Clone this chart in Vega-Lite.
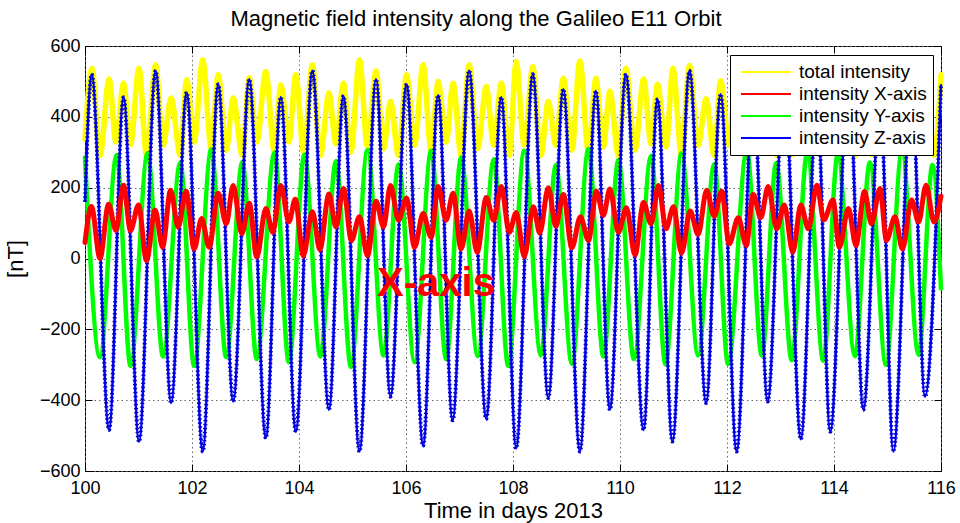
{
  "$schema": "https://vega.github.io/schema/vega-lite/v6.json",
  "width": 856,
  "height": 425,
  "autosize": {"type": "none"},
  "padding": {"left": 85, "top": 46, "right": 19, "bottom": 52},
  "background": "white",
  "title": {"text": "Magnetic field intensity along the Galileo E11 Orbit", "fontSize": 22, "font": "Liberation Sans", "fontWeight": "normal", "color": "black", "anchor": "middle", "dx": -37, "offset": 6},
  "config": {"view": {"stroke": "black", "strokeWidth": 1}, "font": "Liberation Sans", "axis": {"labelFont": "Liberation Sans", "titleFont": "Liberation Sans"}},
  "datasets": {
    "total": [{"t":100.0,"v":337},{"t":100.13,"v":537},{"t":100.28,"v":291},{"t":100.45,"v":507},{"t":100.58,"v":329},{"t":100.72,"v":495},{"t":100.85,"v":322},{"t":101.01,"v":537},{"t":101.15,"v":291},{"t":101.32,"v":547},{"t":101.46,"v":320},{"t":101.61,"v":453},{"t":101.78,"v":291},{"t":101.9,"v":505},{"t":102.04,"v":329},{"t":102.2,"v":561},{"t":102.36,"v":310},{"t":102.49,"v":519},{"t":102.64,"v":306},{"t":102.77,"v":453},{"t":102.94,"v":291},{"t":103.07,"v":510},{"t":103.21,"v":329},{"t":103.38,"v":528},{"t":103.54,"v":301},{"t":103.66,"v":490},{"t":103.81,"v":329},{"t":103.94,"v":519},{"t":104.09,"v":300},{"t":104.25,"v":547},{"t":104.4,"v":291},{"t":104.56,"v":467},{"t":104.69,"v":324},{"t":104.83,"v":495},{"t":104.97,"v":301},{"t":105.13,"v":561},{"t":105.28,"v":315},{"t":105.44,"v":530},{"t":105.58,"v":310},{"t":105.71,"v":443},{"t":105.86,"v":291},{"t":106.01,"v":519},{"t":106.16,"v":320},{"t":106.32,"v":547},{"t":106.47,"v":301},{"t":106.6,"v":500},{"t":106.75,"v":329},{"t":106.88,"v":495},{"t":107.03,"v":291},{"t":107.18,"v":547},{"t":107.34,"v":310},{"t":107.5,"v":486},{"t":107.64,"v":320},{"t":107.78,"v":495},{"t":107.93,"v":291},{"t":108.06,"v":556},{"t":108.21,"v":320},{"t":108.37,"v":542},{"t":108.52,"v":291},{"t":108.66,"v":443},{"t":108.8,"v":320},{"t":108.94,"v":509},{"t":109.1,"v":306},{"t":109.25,"v":558},{"t":109.41,"v":301},{"t":109.55,"v":509},{"t":109.69,"v":315},{"t":109.81,"v":472},{"t":109.97,"v":291},{"t":110.11,"v":537},{"t":110.28,"v":306},{"t":110.44,"v":507},{"t":110.58,"v":324},{"t":110.7,"v":492},{"t":110.86,"v":315},{"t":110.99,"v":537},{"t":111.15,"v":291},{"t":111.3,"v":545},{"t":111.46,"v":320},{"t":111.61,"v":451},{"t":111.76,"v":291},{"t":111.88,"v":502},{"t":112.04,"v":320},{"t":112.18,"v":561},{"t":112.36,"v":300},{"t":112.49,"v":510},{"t":112.63,"v":325},{"t":112.76,"v":453},{"t":112.93,"v":291},{"t":113.07,"v":530},{"t":113.23,"v":293},{"t":113.38,"v":530},{"t":113.52,"v":310},{"t":113.68,"v":490},{"t":113.81,"v":325},{"t":113.93,"v":519},{"t":114.1,"v":305},{"t":114.27,"v":540},{"t":114.41,"v":291},{"t":114.55,"v":467},{"t":114.7,"v":293},{"t":114.86,"v":497},{"t":114.98,"v":305},{"t":115.11,"v":561},{"t":115.28,"v":310},{"t":115.45,"v":522},{"t":115.58,"v":320},{"t":115.7,"v":443},{"t":115.87,"v":291},{"t":116.0,"v":519}],
    "X": [{"t":100.0,"v":45},{"t":100.12,"v":147},{"t":100.28,"v":0},{"t":100.44,"v":153},{"t":100.58,"v":79},{"t":100.72,"v":207},{"t":100.85,"v":79},{"t":101.0,"v":151},{"t":101.15,"v":-6},{"t":101.31,"v":137},{"t":101.45,"v":32},{"t":101.6,"v":193},{"t":101.74,"v":89},{"t":101.89,"v":190},{"t":102.04,"v":27},{"t":102.18,"v":113},{"t":102.32,"v":32},{"t":102.49,"v":184},{"t":102.64,"v":98},{"t":102.77,"v":206},{"t":102.93,"v":70},{"t":103.07,"v":156},{"t":103.21,"v":4},{"t":103.38,"v":141},{"t":103.51,"v":74},{"t":103.66,"v":206},{"t":103.81,"v":103},{"t":103.93,"v":167},{"t":104.08,"v":8},{"t":104.25,"v":132},{"t":104.39,"v":25},{"t":104.56,"v":182},{"t":104.69,"v":89},{"t":104.83,"v":198},{"t":104.98,"v":51},{"t":105.13,"v":118},{"t":105.28,"v":8},{"t":105.44,"v":162},{"t":105.58,"v":89},{"t":105.71,"v":206},{"t":105.86,"v":108},{"t":106.01,"v":170},{"t":106.16,"v":32},{"t":106.32,"v":127},{"t":106.47,"v":60},{"t":106.6,"v":203},{"t":106.75,"v":108},{"t":106.88,"v":184},{"t":107.03,"v":27},{"t":107.18,"v":134},{"t":107.33,"v":18},{"t":107.5,"v":172},{"t":107.64,"v":108},{"t":107.78,"v":203},{"t":107.93,"v":74},{"t":108.06,"v":130},{"t":108.21,"v":6},{"t":108.38,"v":146},{"t":108.5,"v":72},{"t":108.66,"v":200},{"t":108.8,"v":91},{"t":108.94,"v":181},{"t":109.1,"v":30},{"t":109.26,"v":118},{"t":109.41,"v":51},{"t":109.56,"v":190},{"t":109.69,"v":122},{"t":109.81,"v":196},{"t":109.97,"v":74},{"t":110.12,"v":143},{"t":110.28,"v":10},{"t":110.44,"v":158},{"t":110.58,"v":98},{"t":110.72,"v":206},{"t":110.86,"v":84},{"t":111.0,"v":146},{"t":111.15,"v":15},{"t":111.31,"v":134},{"t":111.46,"v":68},{"t":111.62,"v":193},{"t":111.76,"v":119},{"t":111.9,"v":190},{"t":112.04,"v":41},{"t":112.21,"v":115},{"t":112.36,"v":37},{"t":112.49,"v":181},{"t":112.63,"v":115},{"t":112.77,"v":203},{"t":112.93,"v":84},{"t":113.07,"v":151},{"t":113.23,"v":18},{"t":113.38,"v":151},{"t":113.52,"v":84},{"t":113.68,"v":207},{"t":113.81,"v":109},{"t":113.98,"v":165},{"t":114.1,"v":32},{"t":114.27,"v":141},{"t":114.41,"v":37},{"t":114.57,"v":189},{"t":114.7,"v":98},{"t":114.86,"v":198},{"t":114.98,"v":51},{"t":115.14,"v":118},{"t":115.28,"v":27},{"t":115.45,"v":165},{"t":115.58,"v":103},{"t":115.72,"v":207},{"t":115.87,"v":103},{"t":116.0,"v":176}],
    "Y": [{"t":100.0,"v":285},{"t":100.28,"v":-279},{"t":100.59,"v":292},{"t":100.85,"v":-303},{"t":101.17,"v":297},{"t":101.46,"v":-277},{"t":101.78,"v":271},{"t":102.04,"v":-303},{"t":102.36,"v":308},{"t":102.64,"v":-279},{"t":102.94,"v":273},{"t":103.21,"v":-284},{"t":103.54,"v":299},{"t":103.81,"v":-293},{"t":104.1,"v":292},{"t":104.4,"v":-277},{"t":104.69,"v":275},{"t":104.97,"v":-306},{"t":105.28,"v":306},{"t":105.58,"v":-274},{"t":105.86,"v":266},{"t":106.16,"v":-293},{"t":106.47,"v":304},{"t":106.75,"v":-284},{"t":107.03,"v":285},{"t":107.34,"v":-276},{"t":107.64,"v":280},{"t":107.91,"v":-303},{"t":108.21,"v":304},{"t":108.52,"v":-274},{"t":108.8,"v":264},{"t":109.1,"v":-298},{"t":109.41,"v":309},{"t":109.69,"v":-277},{"t":109.97,"v":278},{"t":110.26,"v":-284},{"t":110.58,"v":290},{"t":110.85,"v":-298},{"t":111.15,"v":297},{"t":111.46,"v":-274},{"t":111.76,"v":267},{"t":112.02,"v":-298},{"t":112.37,"v":305},{"t":112.65,"v":-274},{"t":112.92,"v":269},{"t":113.21,"v":-287},{"t":113.5,"v":300},{"t":113.8,"v":-289},{"t":114.07,"v":295},{"t":114.39,"v":-276},{"t":114.67,"v":271},{"t":114.97,"v":-300},{"t":115.27,"v":305},{"t":115.58,"v":-272},{"t":115.84,"v":264},{"t":116.0,"v":-85}],
    "Z": [{"t":100.0,"v":160},{"t":100.125,"v":520},{"t":100.45,"v":-484},{"t":100.72,"v":455},{"t":101.01,"v":-517},{"t":101.32,"v":530},{"t":101.61,"v":-408},{"t":101.9,"v":469},{"t":102.2,"v":-545},{"t":102.49,"v":492},{"t":102.77,"v":-404},{"t":103.07,"v":506},{"t":103.38,"v":-507},{"t":103.66,"v":455},{"t":103.94,"v":-489},{"t":104.25,"v":530},{"t":104.56,"v":-427},{"t":104.83,"v":459},{"t":105.13,"v":-545},{"t":105.44,"v":506},{"t":105.71,"v":-390},{"t":106.01,"v":492},{"t":106.32,"v":-529},{"t":106.6,"v":461},{"t":106.87,"v":-457},{"t":107.18,"v":530},{"t":107.5,"v":-453},{"t":107.78,"v":455},{"t":108.06,"v":-536},{"t":108.37,"v":520},{"t":108.66,"v":-394},{"t":108.94,"v":478},{"t":109.25,"v":-545},{"t":109.55,"v":473},{"t":109.81,"v":-427},{"t":110.11,"v":520},{"t":110.44,"v":-484},{"t":110.7,"v":450},{"t":110.98,"v":-517},{"t":111.3,"v":530},{"t":111.61,"v":-408},{"t":111.88,"v":464},{"t":112.18,"v":-545},{"t":112.49,"v":478},{"t":112.76,"v":-404},{"t":113.07,"v":511},{"t":113.38,"v":-510},{"t":113.68,"v":449},{"t":113.93,"v":-489},{"t":114.27,"v":522},{"t":114.55,"v":-427},{"t":114.86,"v":459},{"t":115.11,"v":-545},{"t":115.45,"v":496},{"t":115.7,"v":-390},{"t":116.0,"v":492}],
    "note": [{"t":106.56,"v":-71,"label":"X-axis"}]
  },
  "encoding": {
    "x": {"field": "t", "type": "quantitative", "scale": {"domain": [100, 116], "nice": false, "zero": false}, "axis": null},
    "y": {"field": "v", "type": "quantitative", "scale": {"domain": [-600, 600], "nice": false, "zero": false}, "axis": null}
  },
  "resolve": {"axis": {"x": "independent", "y": "independent"}},
  "layer": [
    {
      "data": {"name": "total"},
      "mark": {"type": "line", "interpolate": "monotone", "strokeWidth": 5.5, "strokeJoin": "round", "strokeCap": "round"},
      "encoding": {
        "x": {"field": "t", "type": "quantitative", "scale": {"domain": [100, 116], "nice": false, "zero": false},
          "axis": {"orient": "bottom", "title": "Time in days 2013", "titleFontSize": 22, "titleFontWeight": "normal", "titleColor": "black", "titlePadding": 3, "labelFontSize": 18, "labelColor": "black", "labelPadding": 15, "labelFlush": false, "values": [100,102,104,106,108,110,112,114,116], "format": "d", "grid": true, "gridColor": "#666666", "gridDash": [1.5, 3], "gridWidth": 1, "domain": false, "ticks": true, "tickColor": "black", "tickSize": -7}},
        "y": {"field": "v", "type": "quantitative", "scale": {"domain": [-600, 600], "nice": false, "zero": false},
          "axis": {"orient": "left", "title": "[nT]", "titleFontSize": 22, "titleFontWeight": "normal", "titleColor": "black", "titlePadding": 12, "labelFontSize": 18, "labelColor": "black", "labelPadding": 12, "labelFlush": false, "values": [-600,-400,-200,0,200,400,600], "format": "d", "grid": true, "gridColor": "#666666", "gridDash": [1.5, 3], "gridWidth": 1, "domain": false, "ticks": true, "tickColor": "black", "tickSize": -7}},
        "color": {"datum": "total intensity", "type": "nominal",
          "scale": {"domain": ["total intensity", "intensity X-axis", "intensity Y-axis", "intensity Z-axis"], "range": ["#FFFF00", "#FF0000", "#00FF00", "#0000FF"]},
          "legend": {"orient": "none", "legendX": 645, "legendY": 9, "title": null, "labelFontSize": 19, "labelFont": "Liberation Sans", "labelColor": "black", "symbolType": "stroke", "symbolSize": 2500, "symbolStrokeWidth": 2, "clipHeight": 22, "rowPadding": 0, "padding": 6, "strokeColor": "black", "fillColor": "white", "symbolOffset": 4, "labelOffset": 7, "cornerRadius": 0}}
      }
    },
    {
      "data": {"name": "Y"},
      "mark": {"type": "line", "interpolate": "monotone", "strokeWidth": 4.5, "strokeJoin": "round", "strokeCap": "round"},
      "encoding": {
        "x": {"field": "t", "type": "quantitative", "scale": {"domain": [100, 116], "nice": false, "zero": false},
          "axis": {"orient": "top", "title": null, "labels": false, "grid": false, "domain": false, "ticks": true, "tickColor": "black", "tickSize": -7, "values": [100,102,104,106,108,110,112,114,116]}},
        "y": {"field": "v", "type": "quantitative", "scale": {"domain": [-600, 600], "nice": false, "zero": false},
          "axis": {"orient": "right", "title": null, "labels": false, "grid": false, "domain": false, "ticks": true, "tickColor": "black", "tickSize": -7, "values": [-600,-400,-200,0,200,400,600]}},
        "color": {"datum": "intensity Y-axis", "type": "nominal"}
      }
    },
    {
      "data": {"name": "Z"},
      "mark": {"type": "line", "interpolate": "monotone", "strokeWidth": 2.5, "strokeJoin": "round"},
      "encoding": {"color": {"datum": "intensity Z-axis", "type": "nominal"}}
    },
    {
      "data": {"name": "Z"},
      "mark": {"type": "line", "interpolate": "monotone", "strokeWidth": 4, "color": "#0000CC", "strokeDash": [1.5, 2.5]},
      "encoding": {}
    },
    {
      "data": {"name": "X"},
      "mark": {"type": "line", "interpolate": "monotone", "strokeWidth": 5, "strokeJoin": "round", "strokeCap": "round"},
      "encoding": {"color": {"datum": "intensity X-axis", "type": "nominal"}}
    },
    {
      "data": {"name": "note"},
      "mark": {"type": "text", "fontSize": 40, "fontWeight": "bold", "font": "Liberation Sans", "color": "#FF0000", "align": "center", "baseline": "middle"},
      "encoding": {"text": {"field": "label", "type": "nominal"}}
    }
  ]
}
